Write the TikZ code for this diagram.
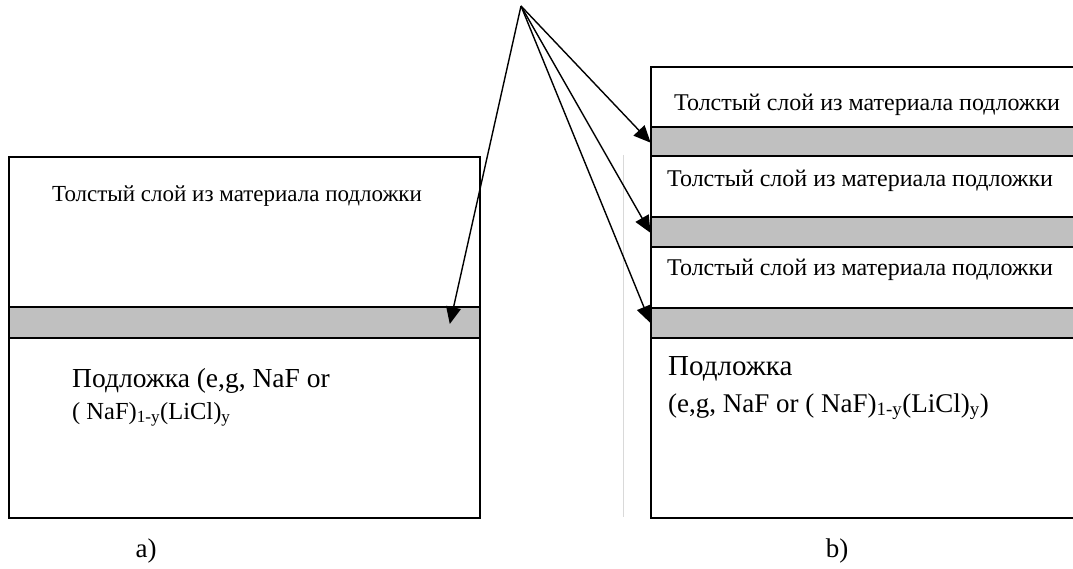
\documentclass[tikz,border=0pt]{standalone}
\usepackage{fontspec}
\setmainfont{Liberation Serif}
\usetikzlibrary{arrows.meta}
\definecolor{bandgrey}{HTML}{C0C0C0}
\tikzset{
  layer/.style={draw=black, line width=2pt, fill=white, inner sep=0pt, anchor=north west},
  band/.style={draw=black, line width=2pt, fill=bandgrey, inner sep=0pt, anchor=north west},
  lbl/.style={anchor=base west, inner sep=0pt, font=\fontsize{23}{27}\selectfont},
  lblr/.style={anchor=base west, inner sep=0pt, font=\fontsize{24}{28}\selectfont},
  sublbl/.style={anchor=base west, inner sep=0pt, font=\fontsize{27.5}{30}\selectfont},
  captext/.style={anchor=base, inner sep=0pt, font=\fontsize{27}{30}\selectfont},
  ptr/.style={line width=1.4pt, -{Triangle[length=17pt,width=15pt]}, shorten >=-1pt}
}
\begin{document}
\begin{tikzpicture}[x=1pt,y=-1pt]
\useasboundingbox (0,0) rectangle (1073,569);
% left stack (a)
\node[layer, minimum width=471pt, minimum height=361pt] (subA) at (8,156) {};
\node[band, minimum width=471pt, minimum height=31pt] (bandA) at (8,306) {};
% faint vertical line
\draw[black!15, line width=1pt] (623,155) -- (623,517);
% right stack (b)
\begin{scope}
\clip (640,50) rectangle (1073,530);
\node[layer, minimum width=440pt, minimum height=451pt] (subB) at (650,66) {};
\node[band, minimum width=440pt, minimum height=29pt] (bandB1) at (650,126) {};
\node[band, minimum width=440pt, minimum height=30pt] (bandB2) at (650,216) {};
\node[band, minimum width=440pt, minimum height=30pt] (bandB3) at (650,307) {};
\end{scope}
% texts
\node[lbl] (tA) at (52,202) {Толстый слой из материала подложки};
\node[sublbl] (sA1) at (72,387) {Подложка (e,g, NaF or};
\node[lbl, font=\fontsize{24.5}{28}\selectfont] (sA2) at (72,419) {( NaF)\textsubscript{1-y}(LiCl)\textsubscript{y}};
\node[lblr] (tB1) at (674,111) {Толстый слой из материала подложки};
\node[lblr] (tB2) at (667,187) {Толстый слой из материала подложки};
\node[lblr] (tB3) at (667,276) {Толстый слой из материала подложки};
\node[sublbl, font=\fontsize{29}{32}\selectfont] (sB1) at (668,375) {Подложка};
\node[lbl, font=\fontsize{27}{30}\selectfont] (sB2) at (668,412) {(e,g, NaF or ( NaF)\textsubscript{1-y}(LiCl)\textsubscript{y})};
\node[captext] (capA) at (146,557) {a)};
\node[captext] (capB) at (837,557) {b)};
% pointers
\coordinate (apex) at (521,6);
\coordinate (pA) at (450,323);
\coordinate (pB1) at (650,142);
\coordinate (pB2) at (650,232);
\coordinate (pB3) at (650,322);
\draw[ptr] (apex) -- (pA);
\draw[ptr] (apex) -- (pB1);
\draw[ptr] (apex) -- (pB2);
\draw[ptr] (apex) -- (pB3);
\end{tikzpicture}
\end{document}
